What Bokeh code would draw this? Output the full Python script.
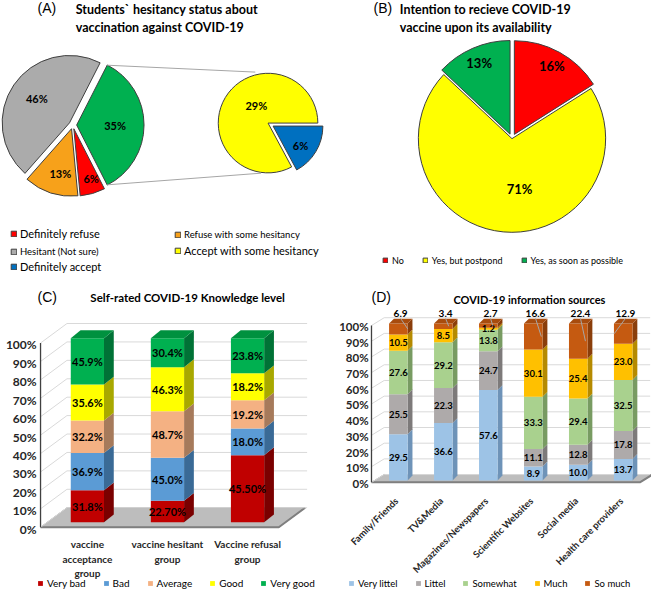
import math
from bokeh.plotting import figure
from bokeh.layouts import column, row
from bokeh.models import Range1d, Legend, LegendItem, ColumnDataSource
from bokeh.core.properties import value
from bokeh.embed import file_html
from bokeh.resources import INLINE

FONT = "Lato"
PFONT = "Liberation Sans"

# ---------------- data ----------------
# (A) pie of pie
a_main_names = ["Accept (all)", "Hesitant (Not sure)", "Refuse with some hesitancy", "Definitely refuse"]
a_main_values = [35, 46, 13, 6]
a_sub_names = ["Accept with some hesitancy", "Definitely accept"]
a_sub_values = [29, 6]

# (B)
b_names = ["No", "Yes, but postpond", "Yes, as soon as possible"]
b_values = [16, 71, 13]

# (C)
c_groups = ["vaccine\nacceptance\ngroup", "vaccine hesitant\ngroup", "Vaccine refusal\ngroup"]
c_levels = ["Very bad", "Bad", "Average", "Good", "Very good"]
c_very_bad = [31.8, 22.7, 45.5]
c_bad = [36.9, 45.0, 18.0]
c_average = [32.2, 48.7, 19.2]
c_good = [35.6, 46.3, 18.2]
c_very_good = [45.9, 30.4, 23.8]
c_very_bad_text = ["31.8%", "22.70%", "45.50%"]

# (D)
d_sources = ["Family/Friends", "TV&Media", "Magazines/Newspapers",
             "Scientific Websites", "Social media", "Health care providers"]
d_levels = ["Very littel", "Littel", "Somewhat", "Much", "So much"]
d_very_littel = [29.5, 36.6, 57.6, 8.9, 10.0, 13.7]
d_littel = [25.5, 22.3, 24.7, 11.1, 12.8, 17.8]
d_somewhat = [27.6, 29.2, 13.8, 33.3, 29.4, 32.5]
d_much = [10.5, 8.5, 1.2, 30.1, 25.4, 23.0]
d_so_much = [6.9, 3.4, 2.7, 16.6, 22.4, 12.9]

y_ticks = [0, 10, 20, 30, 40, 50, 60, 70, 80, 90, 100]
y_tick_labels = ["0%", "10%", "20%", "30%", "40%", "50%", "60%", "70%", "80%", "90%", "100%"]

# ---------------- styles ----------------
A_MAIN_COLORS = ["#00B050", "#ABABAB", "#F7A11A", "#FF0000"]
A_SUB_COLORS = ["#FFFF00", "#0070C0"]
B_COLORS = ["#FF0000", "#FFFF00", "#00B050"]
C_COLORS = ["#C00000", "#5B9BD5", "#F4B183", "#FFFF00", "#00B050"]
C_SIDE = ["#7A0000", "#3A6A96", "#A67A5B", "#A8A800", "#007236"]
C_TOP = "#00913F"
D_COLORS = ["#9DC3E6", "#AEAAAA", "#A9D18E", "#FFC000", "#C55A11"]
D_SIDE = ["#6E93B8", "#7D7A7A", "#789B62", "#B58A00", "#8A3E0B"]
D_TOP = "#A84C0E"
EDGE = "#3F3F3F"
GRID = "#D9D9D9"


def make_fig(w, h, xr, yr):
    p = figure(width=w, height=h, x_range=Range1d(*xr), y_range=Range1d(*yr),
               x_axis_type=None, y_axis_type=None, title=None,
               output_backend="svg", toolbar_location=None,
               min_border=0, outline_line_color=None)
    return p


def txt(p, x, y, t, size, bold=False, align="left", baseline="middle", font=FONT,
        angle=0, color="#000000", line_height=1.2):
    p.text(x=x, y=y, text=t, text_font=value(font), text_font_size=size,
           text_font_style="bold" if bold else "normal", text_align=align,
           text_baseline=baseline, angle=math.radians(angle), text_color=color,
           text_line_height=line_height)


def draw_pie(p, cx, cy, r, values, start, clockwise, colors, explode, label_r, label_da, label_size):
    total = sum(values)
    ang = start
    d = dict(x=[], y=[], s=[], e=[], c=[], lx=[], ly=[], t=[])
    for i, v in enumerate(values):
        span = v / total * 360.0
        if clockwise:
            s, e = ang - span, ang
            ang -= span
        else:
            s, e = ang, ang + span
            ang += span
        mid = math.radians((s + e) / 2)
        ox = cx + explode[i] * math.cos(mid)
        oy = cy + explode[i] * math.sin(mid)
        la = math.radians((s + e) / 2 + label_da[i])
        d["x"].append(ox)
        d["y"].append(oy)
        d["s"].append(math.radians(s))
        d["e"].append(math.radians(e))
        d["c"].append(colors[i])
        d["lx"].append(ox + label_r[i] * r * math.cos(la))
        d["ly"].append(oy + label_r[i] * r * math.sin(la))
        d["t"].append(f"{v}%")
    src = ColumnDataSource(d)
    rend = p.wedge(x="x", y="y", radius=r, start_angle="s", end_angle="e",
                   direction="anticlock", fill_color="c", line_color=EDGE, line_width=1, source=src)
    p.text(x="lx", y="ly", text="t", source=src, text_font=value(FONT), text_font_size=label_size,
           text_font_style="bold", text_align="center", text_baseline="middle")
    return rend, d


def add_legend(p, items, x, y, size, glyph=7, spacing=10, standoff=3, bold=False, orientation="horizontal"):
    lg = Legend(items=items, location=(x, y), orientation=orientation,
                label_text_font=FONT, label_text_font_size=size, label_text_color="#000000",
                label_text_font_style="bold" if bold else "normal",
                glyph_width=glyph, glyph_height=glyph, label_height=12, label_width=1,
                spacing=spacing, padding=0, margin=0, border_line_color=None,
                background_fill_alpha=0, label_standoff=standoff)
    p.add_layout(lg)


def draw_3d_stack(p, series, colors, side_colors, top_color, w, dx, dy):
    n = len(series[0])
    totals = [sum(s[i] for s in series) for i in range(n)]
    base = [0.0] * n
    rends, mids = [], []
    for k, s in enumerate(series):
        pct = [s[i] / totals[i] * 100 for i in range(n)]
        top = [base[i] + pct[i] for i in range(n)]
        sx = [[i + w / 2, i + w / 2 + dx, i + w / 2 + dx, i + w / 2] for i in range(n)]
        sy = [[base[i], base[i] + dy, top[i] + dy, top[i]] for i in range(n)]
        p.patches(sx, sy, fill_color=side_colors[k], line_color=None)
        src = ColumnDataSource(dict(x=list(range(n)), b=base, t=top))
        r = p.vbar(x="x", width=w, bottom="b", top="t", source=src, fill_color=colors[k], line_color=None)
        rends.append(r)
        mids.append([(base[i] + top[i]) / 2 for i in range(n)])
        base = top
    tx = [[i - w / 2, i - w / 2 + dx, i + w / 2 + dx, i + w / 2] for i in range(n)]
    ty = [[base[i], base[i] + dy, base[i] + dy, base[i]] for i in range(n)]
    p.patches(tx, ty, fill_color=top_color, line_color=None)
    return rends, mids


def draw_walls(p, x0, x_right, wdx, wdy, floor_front, lab_off, lab_x, floor_right_front, tick_size):
    # floor
    p.patch([x0, floor_right_front, floor_right_front + wdx, x0 + wdx],
            [floor_front, floor_front, floor_front + wdy, floor_front + wdy],
            fill_color="#BDBDBD", line_color="#A0A0A0", line_width=1)
    p.line([x0, floor_right_front, floor_right_front + wdx],
           [floor_front, floor_front, floor_front + wdy], line_color="#7F7F7F", line_width=2)
    # back wall + left wall gridlines
    for v in y_ticks:
        p.line([x0, x0 + wdx, x_right], [v + floor_front, v + floor_front + wdy, v + floor_front + wdy],
               line_color=GRID, line_width=1)
    # axis line
    p.line([x0, x0], [floor_front, 100 + floor_front], line_color="#404040", line_width=1.3)
    # tick labels
    p.text(x=[lab_x] * len(y_ticks), y=[v + lab_off for v in y_ticks], text=y_tick_labels,
           text_font=value(FONT), text_font_size=tick_size, text_font_style="bold",
           text_align="right", text_baseline="middle", text_color="#262626")


# ================= Panel A =================
pA = make_fig(332, 287, (0, 340), (0, 295))
A_MAIN_C = (74, 167)
A_MAIN_R = 69
A_SUB_C = (274, 169)
A_SUB_R = 51
main_start = -a_main_values[0] / sum(a_main_values) * 180.0
rA, geoA = draw_pie(pA, A_MAIN_C[0], A_MAIN_C[1], A_MAIN_R, a_main_values, main_start, False,
                    A_MAIN_COLORS, [4, 4, 4, 4], [0.57, 0.61, 0.69, 0.78], [0, -3, 4, 3], "11px")
rAs, geoAs = draw_pie(pA, A_SUB_C[0], A_SUB_C[1], A_SUB_R, a_sub_values, 0, False,
                      A_SUB_COLORS, [0, 6], [0.42, 0.68], [-25, -5], "11px")
# connector lines from "accept" slice to secondary pie
gx, gy = geoA["x"][0], geoA["y"][0]
s0, e0 = geoA["s"][0], geoA["e"][0]
top_pt = (gx + A_MAIN_R * math.cos(e0), gy + A_MAIN_R * math.sin(e0))
bot_pt = (gx + A_MAIN_R * math.cos(s0), gy + A_MAIN_R * math.sin(s0))
sub_top = (A_SUB_C[0] + (A_SUB_R + 3) * math.cos(math.radians(104)),
           A_SUB_C[1] + (A_SUB_R + 3) * math.sin(math.radians(104)))
sub_bot = (A_SUB_C[0] + (A_SUB_R + 1) * math.cos(math.radians(262)),
           A_SUB_C[1] + (A_SUB_R + 1) * math.sin(math.radians(262)))
pA.segment(x0=[top_pt[0], bot_pt[0]], y0=[top_pt[1], bot_pt[1]],
           x1=[sub_top[0], sub_bot[0]], y1=[sub_top[1], sub_bot[1]], line_color="#A6A6A6", line_width=1)
txt(pA, [38], [287], ["(A)"], "14px", font=PFONT)
txt(pA, [77], [286], ["Students` hesitancy status about"], "12.5px", bold=True)
txt(pA, [77], [267], ["vaccination against COVID-19"], "12.5px", bold=True)
add_legend(pA, [LegendItem(label="Definitely refuse", renderers=[rA], index=3)], 10, 47, "11px", glyph=7)
add_legend(pA, [LegendItem(label="Hesitant (Not sure)", renderers=[rA], index=1)], 10, 30, "9.5px", glyph=7)
add_legend(pA, [LegendItem(label="Definitely accept", renderers=[rAs], index=1)], 10, 14, "11px", glyph=7)
add_legend(pA, [LegendItem(label="Refuse with some hesitancy", renderers=[rA], index=2)], 174, 47, "9.5px", glyph=7)
add_legend(pA, [LegendItem(label="Accept with some hesitancy", renderers=[rAs], index=0)], 174, 30, "11px", glyph=7)

# ================= Panel B =================
pB = make_fig(319, 287, (0, 327), (0, 295))
rB, geoB = draw_pie(pB, 184, 153, 96, b_values, 90, True, B_COLORS, [5, 0, 5],
                    [0.83, 0.54, 0.83], [0, 14, 0], "13px")
txt(pB, [42], [287], ["(B)"], "14px", font=PFONT)
txt(pB, [69], [286], ["Intention to recieve COVID-19"], "12.5px", bold=True)
txt(pB, [69], [267], ["vaccine upon its availability"], "12.5px", bold=True)
add_legend(pB, [LegendItem(label=b_names[i], renderers=[rB], index=i) for i in range(3)],
           50, 21, "9px", glyph=6, spacing=18, standoff=4)

# ================= Panel C =================
pC = make_fig(332, 303, (-1.085, 3.061), (-37.0, 127.5))
draw_walls(pC, -0.585, 2.744, 0.33, 10.6, -2.65, -3.7, -0.634, 2.39, "12px")
c_series = [c_very_bad, c_bad, c_average, c_good, c_very_good]
rC, midsC = draw_3d_stack(pC, c_series, C_COLORS, C_SIDE, C_TOP, 0.415, 0.122, 4.23)
c_texts = [c_very_bad_text] + [[f"{v:.1f}%" for v in s] for s in c_series[1:]]
for k in range(5):
    txt(pC, list(range(3)), midsC[k], c_texts[k], "11px", bold=True, align="center")
txt(pC, list(range(3)), [-8.6] * 3, c_groups, "10px", bold=True, align="center", baseline="top",
    line_height=1.22, color="#262626")
txt(pC, [-0.622], [122.2], ["(C)"], "14px", font=PFONT)
txt(pC, [0.037], [122.2], ["Self-rated COVID-19 Knowledge level"], "11.5px", bold=True)
add_legend(pC, [LegendItem(label=c_levels[k], renderers=[rC[k]]) for k in range(5)],
           37, 1, "10px", glyph=6, spacing=17, standoff=4)

# ================= Panel D =================
pD = make_fig(319, 303, (-1.464, 5.629), (-70.2, 123.0))
draw_walls(pD, -0.597, 5.6, 0.282, 4.97, -1.24, -1.9, -0.662, 5.37, "11.5px")
d_series = [d_very_littel, d_littel, d_somewhat, d_much, d_so_much]
rD, midsD = draw_3d_stack(pD, d_series, D_COLORS, D_SIDE, D_TOP, 0.412, 0.108, 3.1)
for k in range(4):
    txt(pD, list(range(6)), midsD[k], [f"{v:.1f}" for v in d_series[k]], "9.5px", bold=True, align="center")
# "So much" values above the bars with leader lines
D_LEAD_DX = [0.21, 0.12, 0.1, 0.18, 0.16, -0.2]
lab_x = [i + 0.05 for i in range(6)]
pD.segment(x0=lab_x, y0=[103.3] * 6, x1=[i + D_LEAD_DX[i] for i in range(6)], y1=midsD[4],
           line_color="#A6A6A6", line_width=1)
txt(pD, lab_x, [106.5] * 6, [f"{v:.1f}" for v in d_so_much], "10px", bold=True, align="center")
txt(pD, [i - 0.04 for i in range(6)], [-12.0] * 6, d_sources, "9.5px", bold=True, align="right",
    angle=45, color="#262626")
txt(pD, [-0.597], [116.8], ["(D)"], "14px", font=PFONT)
txt(pD, [1.226], [115.5], ["COVID-19 information sources"], "11px", bold=True)
add_legend(pD, [LegendItem(label=d_levels[k], renderers=[rD[k]]) for k in range(5)],
           16, 1, "9.5px", glyph=6, spacing=17, standoff=4)

layout = column(row(pA, pB), row(pC, pD))
open("out.html", "w").write(file_html(layout, INLINE))
